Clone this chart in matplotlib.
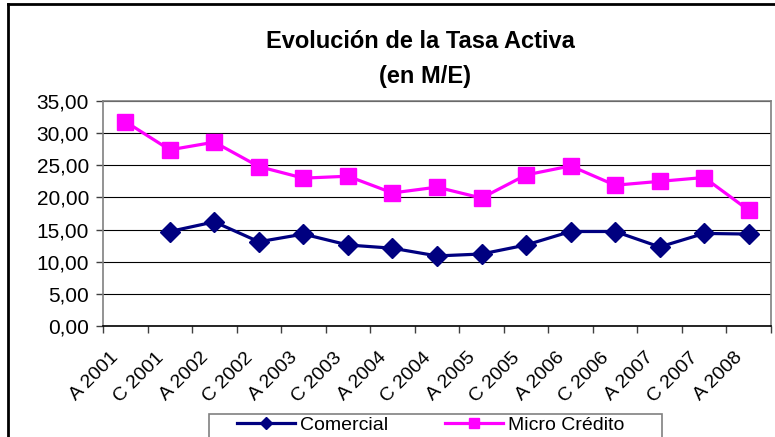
import matplotlib
matplotlib.use('Agg')
import matplotlib.pyplot as plt
import matplotlib.transforms as mtransforms
from matplotlib.ticker import FuncFormatter, FixedLocator
from matplotlib.lines import Line2D
from matplotlib.patches import Rectangle
import numpy as np

plt.rcParams['font.family'] = ['Liberation Sans', 'DejaVu Sans']

# Data
periods = ['A 2001', 'C 2001', 'A 2002', 'C 2002', 'A 2003', 'C 2003', 'A 2004', 'C 2004',
           'A 2005', 'C 2005', 'A 2006', 'C 2006', 'A 2007', 'C 2007', 'A 2008']
comercial = [np.nan, 14.7, 16.2, 13.1, 14.3, 12.6, 12.1, 10.9, 11.2, 12.6, 14.7, 14.7, 12.3, 14.4, 14.3]
micro_credito = [31.8, 27.4, 28.6, 24.8, 23.0, 23.3, 20.7, 21.6, 19.9, 23.5, 24.9, 21.9, 22.5, 23.1, 18.0]

W, H = 775, 437
fig = plt.figure(figsize=(W / 100, H / 100), dpi=100)
fig.patch.set_facecolor('white')

# plot area in pixels: left 103, right 771, top 101, bottom 326
ax = fig.add_axes([103 / W, 1 - 326 / H, (771 - 103) / W, (326 - 101) / H])

x = np.arange(len(periods))
ax.plot(x, comercial, color='#000080', linewidth=2.3, marker='D', markersize=10,
        label='Comercial', zorder=3)
ax.plot(x, micro_credito, color='#FF00FF', linewidth=2.3, marker='s', markersize=12,
        label='Micro Crédito', zorder=3)

ax.set_xlim(-0.5, len(periods) - 0.5)
ax.set_ylim(0, 35)
ax.set_yticks(np.arange(0, 36, 5))
ax.yaxis.set_major_formatter(FuncFormatter(lambda v, p: f'{v:.2f}'.replace('.', ',')))
ax.tick_params(axis='y', labelsize=15, length=5, width=1, color='#404040', pad=5)

# category labels at centers, tick marks at category boundaries
ax.set_xticks(x)
ax.set_xticklabels(periods, rotation=45, ha='right', va='center', rotation_mode='anchor',
                   fontsize=14)
ax.xaxis.set_minor_locator(FixedLocator(np.arange(-0.5, len(periods), 1)))
ax.tick_params(axis='x', which='major', length=0, pad=21)
ax.tick_params(axis='x', which='minor', length=5, width=1, color='#404040')
shift = mtransforms.ScaledTranslation(-9 / 100, 0, fig.dpi_scale_trans)
for lbl in ax.get_xticklabels():
    lbl.set_transform(lbl.get_transform() + shift)

ax.grid(axis='y', color='black', linewidth=0.8, zorder=0)
for s in ax.spines.values():
    s.set_color('#808080')
    s.set_linewidth(1.2)
ax.spines['bottom'].set_color('black')

fig.text(420 / W, 1 - 41 / H, 'Evolución de la Tasa Activa', ha='center', va='center',
         fontsize=17, fontweight='bold')
fig.text(425 / W, 1 - 76 / H, '(en M/E)', ha='center', va='center',
         fontsize=17, fontweight='bold')

# legend box, partly cut by the bottom edge as in the reference
fig.add_artist(Rectangle((209 / W, -0.05), (662 - 209) / W, 0.05 + (437 - 414) / H,
                         transform=fig.transFigure, facecolor='white',
                         edgecolor='#808080', linewidth=1.2))
handles, labels = ax.get_legend_handles_labels()
leg = fig.legend(handles, labels, loc='upper left', bbox_to_anchor=(237 / W, 1 - 416 / H),
                 ncol=2, fontsize=14, frameon=False, borderpad=0, borderaxespad=0,
                 handlelength=3.0, columnspacing=2.9, handletextpad=0.25,
                 markerscale=0.6)

# outer chart border (top and left visible)
fig.add_artist(Line2D([8 / W, 1], [1 - 4 / H, 1 - 4 / H], transform=fig.transFigure,
                      color='black', linewidth=2))
fig.add_artist(Line2D([8 / W, 8 / W], [0, 1 - 4 / H], transform=fig.transFigure,
                      color='black', linewidth=2))

fig.savefig('out.png', dpi=100)
